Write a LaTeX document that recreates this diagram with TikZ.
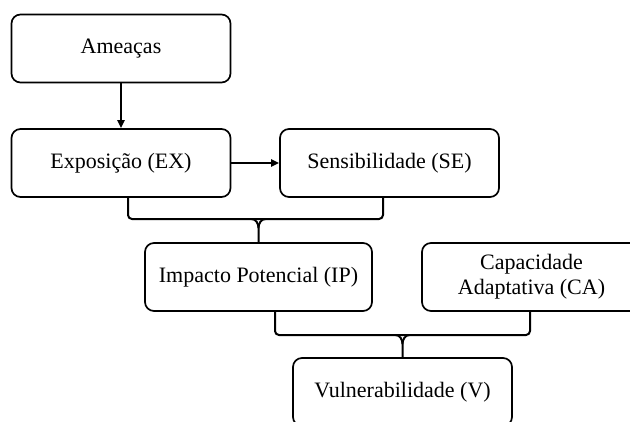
\documentclass[tikz,border=0pt]{standalone}
\usepackage{fontspec}
\setmainfont{Liberation Serif}
\usetikzlibrary{arrows.meta,calc}
\begin{document}
\begin{tikzpicture}[x=1pt,y=-1pt,
  box/.style={draw=black, line width=1.7pt, rounded corners=9pt, minimum width=219pt, minimum height=68pt, inner sep=0pt, align=center, font=\fontsize{22}{25}\selectfont},
  conn/.style={line width=2pt, -{Triangle[length=8pt,width=7pt]}},
  brace/.style={line width=2pt, rounded corners=4pt},
  stem/.style={line width=2pt}
]
\useasboundingbox (0,0) rectangle (630,421);
\node[box] (am) at (121,48.5) {Ameaças};
\node[box] (ex) at (121,163) {Exposição (EX)};
\node[box] (se) at (389.5,163) {Sensibilidade (SE)};
\node[box, minimum width=227pt] (ip) at (258.5,277) {Impacto Potencial (IP)};
\node[box] (ca) at (531.5,277) {Capacidade\\Adaptativa (CA)};
\node[box] (vu) at (402.5,392) {Vulnerabilidade (V)};

\draw[conn] (am) -- (ex);
\draw[conn] (ex) -- (se);

% brace 1
\coordinate (j1) at (ip.north |- 0,219);
\draw[brace] ([xshift=7pt]ex.south) |- (j1) -| ([xshift=-6.5pt]se.south);
\draw[stem] ($(j1)+(-7,0)$) to[out=0,in=90] ($(j1)+(0,9)$) -- (ip.north);
\draw[stem] ($(j1)+(7,0)$) to[out=180,in=90] ($(j1)+(0,9)$);

% brace 2
\coordinate (j2) at (vu.north |- 0,335);
\draw[brace] ([xshift=16.5pt]ip.south) |- (j2) -| ([xshift=-1.5pt]ca.south);
\draw[stem] ($(j2)+(-7,0)$) to[out=0,in=90] ($(j2)+(0,9)$) -- (vu.north);
\draw[stem] ($(j2)+(7,0)$) to[out=180,in=90] ($(j2)+(0,9)$);
\end{tikzpicture}
\end{document}
